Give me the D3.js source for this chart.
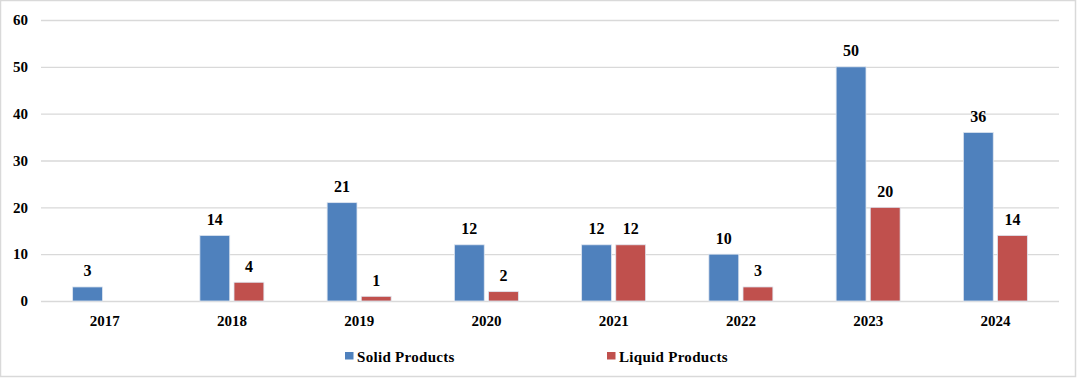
<!DOCTYPE html>
<html><head><meta charset="utf-8">
<script src="https://cdn.jsdelivr.net/npm/d3@7"></script>
<style>body{margin:0;background:#fff;} svg{display:block;} text{font-family:"Liberation Serif","Times New Roman",serif;font-weight:bold;fill:#000;}</style>
</head><body>
<script>
const categories = ["2017","2018","2019","2020","2021","2022","2023","2024"];
const solid = [3,14,21,12,12,10,50,36];
const liquid = [null,4,1,2,12,3,20,14];
const seriesNames = ["Solid Products","Liquid Products"];
const colors = ["#4F81BD","#C0504D"];
const yTicks = [0,10,20,30,40,50,60];

(function(){
const W=1080,H=378;
const FONT='"Liberation Serif","Times New Roman",serif';
const svg=d3.select("body").append("svg").attr("width",W).attr("height",H);
svg.append("rect").attr("x",0.5).attr("y",0.5).attr("width",1075).attr("height",376)
  .attr("fill","#fff").attr("stroke","#d9d9d9").attr("stroke-width",1.5);

const mLeft=41,mRight=1059,mTop=20,mBottom=301;
const x=d3.scaleBand().domain(categories).range([mLeft,mRight]).paddingInner(0).paddingOuter(0);
const y=d3.scaleLinear().domain([0,60]).range([mBottom,mTop]);
const groupW=64;
const x1=d3.scaleBand().domain([0,1]).range([0,groupW]).paddingInner(8/64);

// grid
const grid=svg.append("g").attr("transform",`translate(${mLeft},0)`)
  .call(d3.axisLeft(y).tickValues(yTicks).tickSize(-(mRight-mLeft)).tickFormat(""));
grid.select(".domain").remove();
grid.selectAll("line").attr("stroke","#d9d9d9").attr("stroke-width",1.3);

// y labels
const ya=svg.append("g").attr("transform",`translate(${mLeft},0)`)
  .call(d3.axisLeft(y).tickValues(yTicks).tickSize(0).tickPadding(13));
ya.select(".domain").remove();
ya.attr("font-family",null).attr("font-size",null);
ya.selectAll("text").style("font-size","15px").style("font-family",FONT).style("font-weight","bold").attr("fill","#000");

// x labels
const xa=svg.append("g").attr("transform",`translate(0,${mBottom})`)
  .call(d3.axisBottom(x).tickSize(0).tickPadding(14));
xa.select(".domain").remove();
xa.attr("font-family",null).attr("font-size",null);
xa.selectAll("text").style("font-size","15px").style("font-family",FONT).style("font-weight","bold").attr("fill","#000");

const series=[solid,liquid];
series.forEach((vals,si)=>{
  const g=svg.append("g");
  categories.forEach((c,i)=>{
    const v=vals[i];
    if(v==null) return;
    const bx=x(c)+x.bandwidth()/2-groupW/2+x1(si);
    g.append("rect").attr("x",bx).attr("y",y(v)).attr("width",x1.bandwidth()).attr("height",y(0)-y(v))
      .attr("fill",colors[si]).attr("stroke","#dfe6f0").attr("stroke-width",0.8);
    g.append("text").attr("x",bx+x1.bandwidth()/2).attr("y",y(v)-10.5).attr("text-anchor","middle")
      .style("font-size","16px").style("font-family",FONT).text(v);
  });
});

// legend
const legX=[345,607];
seriesNames.forEach((n,i)=>{
  svg.append("rect").attr("x",legX[i]).attr("y",352).attr("width",8.5).attr("height",7.5).attr("fill",colors[i]);
  svg.append("text").attr("x",legX[i]+12).attr("y",361.5).style("font-size","15px").style("font-family",FONT)
    .style("letter-spacing","0.3px").text(n);
});
})();
</script>
</body></html>
